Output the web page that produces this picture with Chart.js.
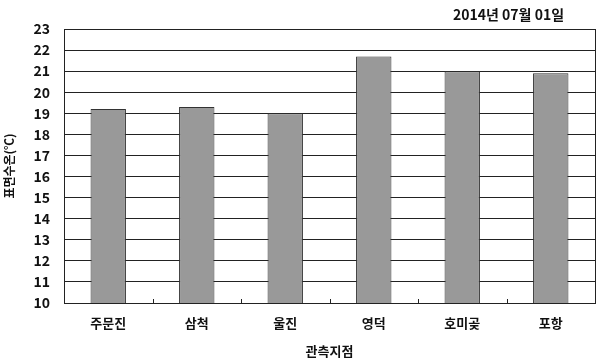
<!DOCTYPE html>
<html>
<head>
<meta charset="utf-8">
<script src="https://cdn.jsdelivr.net/npm/chart.js@4"></script>
<style>
    html, body { margin: 0; padding: 0; background: #ffffff; }
    #wrap { width: 601px; height: 359px; }
</style>
</head>
<body>
<div id="wrap"><canvas id="seaTempChart" width="601" height="359"></canvas></div>
<script>
const stations = ['주문진', '삼척', '울진', '영덕', '호미곶', '포항'];
const surfaceTemps = [19.2, 19.3, 19.0, 21.7, 21.0, 20.9];
const yTicks = [10, 11, 12, 13, 14, 15, 16, 17, 18, 19, 20, 21, 22, 23];
const dateLabel = '2014년 07월 01일';

const fontFamily = '"Noto Sans CJK KR", "Noto Sans", sans-serif';

// frame, category boundary ticks and the date label
const framePlugin = {
    id: 'frame',
    afterDatasetsDraw(chart) {
        const { ctx, chartArea: area, scales } = chart;
        ctx.save();
        ctx.strokeStyle = '#222222';
        ctx.lineWidth = 1;
        ctx.strokeRect(Math.round(area.left) + 0.5, Math.round(area.top) + 0.5,
            Math.round(area.right - area.left), Math.round(area.bottom - area.top));

        const x = scales.x;
        const half = (x.getPixelForValue(1) - x.getPixelForValue(0)) / 2;
        ctx.beginPath();
        for (let i = 1; i < stations.length; i++) {
            const px = Math.round(x.getPixelForValue(i) - half) + 0.5;
            ctx.moveTo(px, area.bottom);
            ctx.lineTo(px, area.bottom - 4);
        }
        ctx.stroke();

        ctx.fillStyle = '#111111';
        ctx.font = 'bold 14px ' + fontFamily;
        ctx.textAlign = 'left';
        ctx.textBaseline = 'middle';
        ctx.fillText(dateLabel, 453, 15);
        ctx.restore();
    },
};

new Chart(document.getElementById('seaTempChart'), {
    type: 'bar',
    data: {
        labels: stations,
        datasets: [
            {
                label: '표면수온',
                data: surfaceTemps,
                backgroundColor: '#999999',
                borderColor: '#333333',
                borderWidth: 1,
                barPercentage: 0.4,
                categoryPercentage: 1,
            },
        ],
    },
    options: {
        responsive: false,
        animation: false,
        layout: {
            padding: { top: 29, right: 6, bottom: 0, left: 0 },
        },
        plugins: {
            legend: { display: false },
            tooltip: { enabled: false },
        },
        scales: {
            x: {
                grid: { display: false },
                border: { color: '#222222' },
                ticks: {
                    color: '#111111',
                    padding: 4,
                    font: { family: fontFamily, size: 13, weight: 'bold' },
                },
                title: {
                    display: true,
                    text: '관측지점',
                    color: '#111111',
                    padding: { top: 10, bottom: 0 },
                    font: { family: fontFamily, size: 13, weight: 'bold' },
                },
                afterFit(scale) {
                    scale.height = 56;
                },
            },
            y: {
                min: 10,
                max: 23,
                afterBuildTicks(scale) {
                    scale.ticks = yTicks.map((v) => ({ value: v }));
                },
                grid: {
                    color: '#222222',
                    lineWidth: 1,
                    drawTicks: false,
                },
                border: { color: '#222222' },
                ticks: {
                    color: '#111111',
                    padding: 14,
                    font: { family: fontFamily, size: 14, weight: 'bold' },
                },
                title: {
                    display: true,
                    text: '표면수온(℃)',
                    color: '#111111',
                    padding: { top: 2, bottom: 0 },
                    font: { family: fontFamily, size: 12, weight: 'bold' },
                },
                afterFit(scale) {
                    scale.width = 64;
                },
            },
        },
    },
    plugins: [framePlugin],
});
</script>
</body>
</html>
